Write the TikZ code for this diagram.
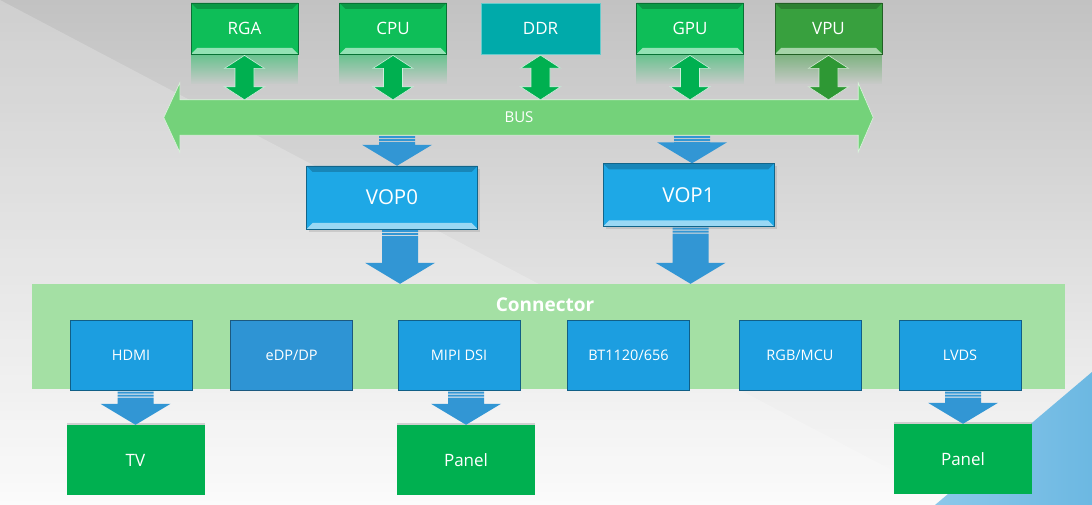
\documentclass[tikz,border=0pt]{standalone}
\usepackage{fontspec}
\setmainfont{Open Sans}
\usepackage{tikz}
\usetikzlibrary{calc,positioning,fadings,shadows}

\definecolor{bgtop}{RGB}{194,194,194}
\definecolor{bgbot}{RGB}{250,250,250}
\definecolor{chipgreen}{RGB}{14,190,88}
\definecolor{chipteal}{RGB}{0,170,170}
\definecolor{vpugreen}{RGB}{56,160,62}
\definecolor{linkgreen}{RGB}{0,176,80}
\definecolor{linkdark}{RGB}{46,152,52}
\definecolor{busgreen}{RGB}{116,210,122}
\definecolor{vopblue}{RGB}{30,168,230}
\definecolor{portblue}{RGB}{28,158,224}
\definecolor{portdark}{RGB}{46,148,212}
\definecolor{flowblue}{RGB}{50,150,212}
\definecolor{connfill}{RGB}{164,224,164}
\definecolor{outgreen}{RGB}{0,176,80}
\definecolor{skyblue}{RGB}{140,200,234}
\definecolor{skydeep}{RGB}{108,184,226}

\begin{document}
\begin{tikzpicture}[
  x=1pt, y=-1pt,
  bevel/.style 2 args={path picture={
    \fill[#1] (path picture bounding box.south west) -- ([shift={(6pt,6pt)}]path picture bounding box.south west)
      -- ([shift={(-6pt,6pt)}]path picture bounding box.south east) -- (path picture bounding box.south east) -- cycle;
    \fill[#2] (path picture bounding box.north west) -- ([shift={(6pt,-6pt)}]path picture bounding box.north west)
      -- ([shift={(-6pt,-6pt)}]path picture bounding box.north east) -- (path picture bounding box.north east) -- cycle;
  }},
  chip/.style={draw=#1!60!black, line width=.8pt, fill=#1, bevel={#1!45!white}{#1!80!black}, text=white,
    font=\fontsize{17}{20}\selectfont, minimum width=107pt, minimum height=51pt, inner sep=0pt},
  flatchip/.style={draw=#1!60!white, fill=#1, text=white,
    font=\fontsize{17}{20}\selectfont, minimum width=119pt, minimum height=51pt, inner sep=0pt},
  refl/.style={fill=#1, fill opacity=.5, path fading=south},
  link/.style={fill=#1, draw=white!80!#1, line width=.6pt, to path={
    let \p1=(\tikztostart), \p2=(\tikztotarget) in
    (\x1,\y1) -- (\x1+20pt,\y1-13pt) -- (\x1+9.5pt,\y1-13pt) -- (\x1+9.5pt,\y2+13pt) -- (\x1+20pt,\y2+13pt)
    -- (\x1,\y2) -- (\x1-20pt,\y2+13pt) -- (\x1-9.5pt,\y2+13pt) -- (\x1-9.5pt,\y1-13pt) -- (\x1-20pt,\y1-13pt) -- cycle}},
  busbar/.style={minimum width=678pt, minimum height=35pt, inner sep=0pt},
  lab/.style={text=white, font=\fontsize{#1}{#1}\selectfont, inner sep=0pt},
  vop/.style={draw=vopblue!60!black, fill=vopblue, bevel={vopblue!45!white}{vopblue!80!black}, text=white,
    font=\fontsize{20.5}{24}\selectfont, minimum width=171pt, minimum height=63pt,
    drop shadow={opacity=.25}},
  flow/.style={fill=flowblue, to path={
    let \p1=(\tikztostart), \p2=(\tikztotarget) in
    (\x1+#1-18pt,\y1-1pt) rectangle (\x1+#1+18pt,\y1-3pt)
    (\x1+#1-18pt,\y1-4pt) rectangle (\x1+#1+18pt,\y1-6pt)
    (\x1+#1-18pt,\y1-7pt) -- (\x1+#1-18pt,\y2+21pt) -- (\x1+#1-35pt,\y2+21pt) -- (\x1+#1,\y2)
    -- (\x1+#1+35pt,\y2+21pt) -- (\x1+#1+18pt,\y2+21pt) -- (\x1+#1+18pt,\y1-7pt) -- cycle}},
  flow/.default=0pt,
  port/.style={fill=#1, draw=black!40!#1, line width=1pt, text=white,
    font=\fontsize{14.5}{17}\selectfont, minimum width=122pt, minimum height=70pt},
  sink/.style={fill=outgreen, text=white, font=\fontsize{17}{20}\selectfont,
    minimum width=138pt, minimum height=70pt,
    drop shadow={opacity=.3, shadow xshift=0pt, shadow yshift=2pt}}
]
\useasboundingbox (0,0) rectangle (1092,505);

% backdrop
\shade[top color=bgtop, bottom color=bgbot] (0,0) rectangle (1092,505);
\fill[white, opacity=.22] (0,0) -- (958,505) -- (0,505) -- cycle;
\shade[left color=skyblue, right color=skydeep] (1092,372) -- (1092,505) -- (935,505) -- cycle;

% memory side
\node[chip=chipgreen]      (rga) at (244.5,28.5) {RGA};
\node[chip=chipgreen]      (cpu) at (393,28.5)   {CPU};
\node[flatchip=chipteal]   (ddr) at (540.5,28.5) {DDR};
\node[chip=chipgreen]      (gpu) at (690,28.5)   {GPU};
\node[chip=vpugreen]       (vpu) at (828.5,28.5) {VPU};

\fill[refl=chipgreen] ([yshift=-1pt]rga.south west) rectangle ([yshift=-30pt]rga.south east);
\fill[refl=chipgreen] ([yshift=-1pt]cpu.south west) rectangle ([yshift=-30pt]cpu.south east);
\fill[refl=chipgreen] ([yshift=-1pt]gpu.south west) rectangle ([yshift=-30pt]gpu.south east);
\fill[refl=vpugreen]  ([yshift=-1pt]vpu.south west) rectangle ([yshift=-30pt]vpu.south east);

\node[busbar] (bus) at (519,117.5) {};
\fill[busgreen, draw=white!75!busgreen, line width=.6pt]
  (bus.north west) -- ([yshift=17pt]bus.north west) -- ([xshift=-16pt]bus.west) -- ([yshift=-17pt]bus.south west)
  -- (bus.south west) -- (bus.south east) -- ([yshift=-17pt]bus.south east) -- ([xshift=15pt]bus.east)
  -- ([yshift=17pt]bus.north east) -- (bus.north east) -- cycle;
\node[lab=15] (buslabel) at (bus) {BUS};

\path[link=linkgreen] ([yshift=-1pt]rga.south) to (rga.south |- bus.north);
\path[link=linkgreen] ([yshift=-1pt]cpu.south) to (cpu.south |- bus.north);
\path[link=linkgreen] ([yshift=-1pt]ddr.south) to (ddr.south |- bus.north);
\path[link=linkgreen] ([yshift=-1pt]gpu.south) to (gpu.south |- bus.north);
\path[link=linkdark]  ([yshift=-1pt]vpu.south) to (vpu.south |- bus.north);

% display controllers
\node[vop] (vop0) at (392,197.5) {VOP0};
\node[vop] (vop1) at (688.5,195) {VOP1};

\fill[flow=5pt]   (vop0.north |- bus.south) to (vop0.north);
\fill[flow=3.5pt] (vop1.north |- bus.south) to (vop1.north);

% connector block
\node[fill=connfill, minimum width=1033pt, minimum height=105pt] (conn) at (548.5,336.5) {};
\node[text=white, font=\bfseries\fontsize{19}{22}\selectfont, inner sep=0pt] (conntitle) at (545,305) {Connector};

\fill[flow=8pt] (vop0.south) to (vop0.south |- conn.north);
\fill[flow=2pt] (vop1.south) to (vop1.south |- conn.north);

\node[port=portblue] (hdmi) at (131,355)   {HDMI};
\node[port=portdark] (edp)  at (291.7,355) {eDP/DP};
\node[port=portblue] (mipi) at (459,355)   {MIPI DSI};
\node[port=portblue] (bt)   at (628.5,355) {BT1120/656};
\node[port=portblue] (rgb)  at (800,355)   {RGB/MCU};
\node[port=portblue] (lvds) at (960,355)   {LVDS};

% outputs
\node[sink] (tv)     at (135.5,460) {TV};
\node[sink] (panelA) at (466,460)   {Panel};
\node[sink] (panelB) at (963,459)   {Panel};

\fill[flow] (tv.north |- hdmi.south)     to (tv.north);
\fill[flow] (panelA.north |- mipi.south) to (panelA.north);
\fill[flow] (panelB.north |- lvds.south) to (panelB.north);
\end{tikzpicture}
\end{document}
